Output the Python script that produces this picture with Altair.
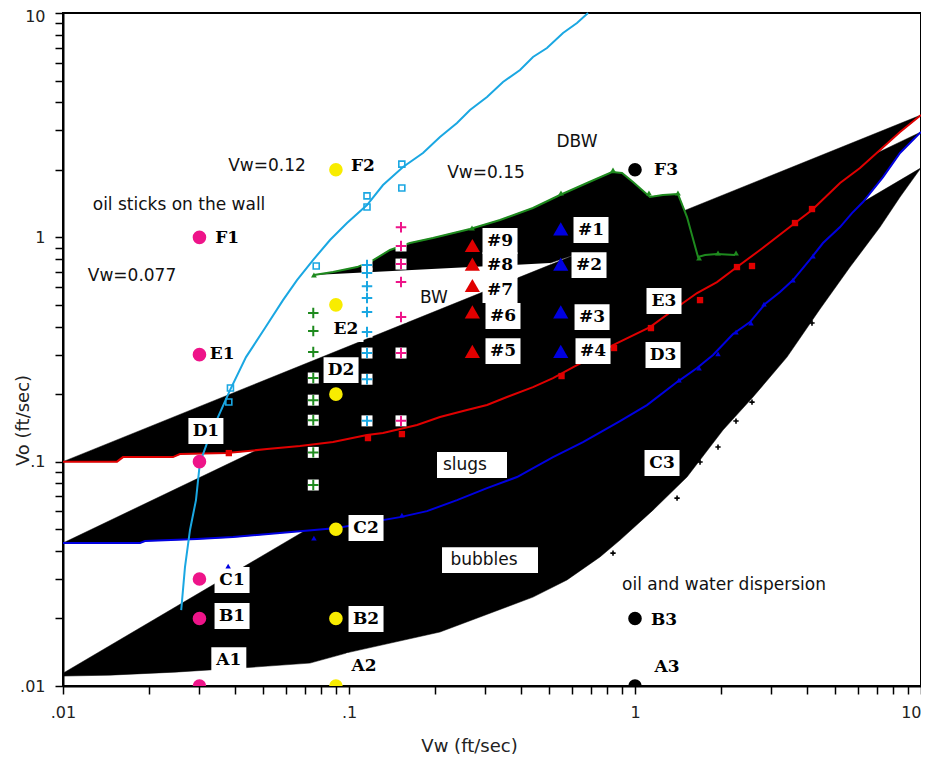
import altair as alt
import pandas as pd

# ---------------- data (Vw, Vo in ft/sec) ----------------
X_TICKS = [0.01, 0.02, 0.03, 0.04, 0.05, 0.06, 0.07, 0.08, 0.09,
           0.1, 0.2, 0.3, 0.4, 0.5, 0.6, 0.7, 0.8, 0.9,
           1, 2, 3, 4, 5, 6, 7, 8, 9, 10]
Y_TICKS = X_TICKS
TICK_TEXT = {0.01: ".01", 0.1: ".1", 1: "1", 10: "10"}

# straight upper edges of the three regime wedges
EDGE1_VW = [0.01, 10]
EDGE1_VO = [0.1, 3.51]
EDGE2_VW = [0.01, 10]
EDGE2_VO = [0.0434, 2.95]
EDGE3_VW = [0.01, 10]
EDGE3_VO = [0.0114, 2.04]

RED_VW = [0.01, 0.01545, 0.01621, 0.02424, 0.02563, 0.03745, 0.05168, 0.0674, 0.0879, 0.1156,
          0.1315, 0.1729, 0.208, 0.2585, 0.3038, 0.3568, 0.4399, 0.5168, 0.6269, 0.7544,
          0.8377, 1.128, 1.472, 1.648, 1.935, 2.273, 2.736, 3.626, 4.158, 5.211,
          6.119, 7.189, 8.446, 10]
RED_VO = [0.1, 0.1, 0.1048, 0.1048, 0.1081, 0.1092, 0.1138, 0.1174, 0.1223, 0.1314,
          0.1341, 0.1456, 0.1581, 0.1698, 0.1788, 0.1941, 0.215, 0.2359, 0.2696, 0.305,
          0.3311, 0.3982, 0.5094, 0.5646, 0.632, 0.737, 0.878, 1.158, 1.323, 1.746,
          2.037, 2.45, 2.948, 3.51]

BLUE_VW = [0.01, 0.01859, 0.01935, 0.02942, 0.03929, 0.05601, 0.0674, 0.0908, 0.1508, 0.1874,
           0.2386, 0.3038, 0.3868, 0.5168, 0.6579, 0.8863, 1.101, 1.403, 1.648, 1.874,
           2.202, 2.524, 2.848, 3.214, 3.568, 4.158, 4.543, 5.211, 5.737, 6.269,
           7.365, 8.446, 10]
BLUE_VO = [0.0434, 0.0434, 0.0443, 0.0452, 0.0461, 0.048, 0.049, 0.0506, 0.0566, 0.0602,
           0.0674, 0.0762, 0.0854, 0.1048, 0.1223, 0.1517, 0.1788, 0.2264, 0.2614, 0.299,
           0.3706, 0.419, 0.504, 0.57, 0.645, 0.817, 0.943, 1.111, 1.283, 1.437,
           1.857, 2.376, 2.95]

LOW_VW = [0.01, 0.01459, 0.02464, 0.04158, 0.07305, 0.1008, 0.208, 0.2871, 0.4399, 0.5785,
          0.7544, 0.8863, 1.156, 1.52, 2.031, 2.586, 3.4, 4.436, 5.646, 7.189, 8.446, 10]
LOW_VO = [0.01107, 0.01118, 0.01153, 0.01202, 0.01265, 0.01416, 0.0174, 0.0203, 0.0249, 0.0297,
          0.0376, 0.0447, 0.0608, 0.0854, 0.1383, 0.1941, 0.2925, 0.479, 0.737, 1.111, 1.512, 2.04]

GREEN_VW = [0.0754, 0.0879, 0.1067, 0.1184, 0.1391, 0.1634, 0.1966, 0.2649, 0.3373, 0.4399,
            0.5468, 0.6796, 0.8311, 0.9006, 0.984, 1.128, 1.253, 1.413, 1.52, 1.661,
            1.757, 1.935, 2.237]
GREEN_VO = [0.679, 0.700, 0.737, 0.776, 0.878, 0.943, 0.993, 1.089, 1.194, 1.351,
            1.544, 1.746, 1.955, 1.935, 1.764, 1.512, 1.544, 1.560, 1.231, 0.817,
            0.834, 0.842, 0.834]
BW_TIP_VW = [0.5045]
BW_TIP_VO = [0.768]

CYAN_VW = [0.0259, 0.0267, 0.0278, 0.02917, 0.0301, 0.03188, 0.03483, 0.03837, 0.04364, 0.05085,
           0.05878, 0.06579, 0.07484, 0.08583, 0.0984, 0.1156, 0.1315, 0.1545, 0.1814, 0.208,
           0.2386, 0.2649, 0.3038, 0.3455, 0.3963, 0.4399, 0.4923, 0.5602, 0.6269, 0.6851]
CYAN_VO = [0.0218, 0.0339, 0.0496, 0.0674, 0.0986, 0.121, 0.1581, 0.2085, 0.2925, 0.394,
           0.525, 0.645, 0.792, 0.9727, 1.158, 1.393, 1.711, 2.058, 2.376, 2.801,
           3.233, 3.694, 4.222, 4.925, 5.57, 6.366, 6.982, 8.143, 9.025, 10]

RED_SQ_VW = [0.038, 0.1165, 0.1531, 0.5535, 0.8446, 1.137, 1.688, 2.273, 2.565, 3.626, 4.158]
RED_SQ_VO = [0.1092, 0.1274, 0.1327, 0.2408, 0.321, 0.394, 0.525, 0.737, 0.745, 1.158, 1.337]
BLUE_TRI_VW = [0.0378, 0.0754, 0.1531, 1.425, 1.675, 1.951, 2.255, 2.544, 2.825, 3.568, 4.191]
BLUE_TRI_VO = [0.0342, 0.0456, 0.0578, 0.231, 0.2614, 0.302, 0.378, 0.415, 0.504, 0.645, 0.825]
GREEN_TRI_VW = [0.0754, 0.2692, 0.5511, 0.8377, 1.119, 1.413, 1.675, 1.951, 2.255]
GREEN_TRI_VO = [0.679, 1.10, 1.576, 1.995, 1.576, 1.576, 0.809, 0.851, 0.851]
BLACK_PLUS_VW = [0.8377, 1.403, 1.688, 1.951, 2.255, 2.565, 4.158]
BLACK_PLUS_VO = [0.0391, 0.0688, 0.0996, 0.1162, 0.1517, 0.1843, 0.415]
CYAN_SQ_VW = [0.0385, 0.038, 0.0768, 0.1156, 0.1156, 0.153, 0.153]
CYAN_SQ_VO = [0.213, 0.1845, 0.745, 1.365, 1.53, 2.12, 1.66]

GREEN_PLUS_VW = 0.075
GREEN_PLUS_VO = [0.46, 0.382, 0.308, 0.236, 0.188, 0.153, 0.110, 0.0787]
CYAN_PLUS_VW = 0.1156
CYAN_PLUS_VO = [0.752, 0.693, 0.606, 0.536, 0.465, 0.378, 0.305, 0.233, 0.152]
PINK_PLUS_VW = 0.152
PINK_PLUS_VO = [1.11, 0.915, 0.760, 0.632, 0.441, 0.305, 0.152]

PINK_VW = 0.03
PINK_VO = [1, 0.3, 0.1, 0.03, 0.02, 0.01]
YELLOW_VW = 0.09
YELLOW_VO = [2, 0.5, 0.2, 0.05, 0.02, 0.01]
BLACK_VW = 1.0
BLACK_VO = [2, 0.02, 0.01]
RED_BIG_VW = 0.27
RED_BIG_VO = [0.92, 0.76, 0.61, 0.465, 0.31]
BLUE_BIG_VW = 0.55
BLUE_BIG_VO = [1.09, 0.76, 0.465, 0.31]

LABELS = ["F1", "E1", "D1", "C1", "B1", "A1", "F2", "E2", "D2", "C2", "B2", "A2",
          "F3", "B3", "A3", "E3", "D3", "C3", "#9", "#8", "#7", "#6", "#5",
          "#1", "#2", "#3", "#4"]
LABEL_VW = [0.0375, 0.036, 0.0316, 0.039, 0.039, 0.038, 0.1119, 0.0976, 0.0938, 0.1147, 0.1147, 0.1128,
            1.284, 1.263, 1.294, 1.263, 1.253, 1.243, 0.3373, 0.3373, 0.3373, 0.3455, 0.3455,
            0.7017, 0.6906, 0.7076, 0.7132]
LABEL_VO = [0.993, 0.302, 0.1369, 0.0297, 0.0205, 0.01304, 2.079, 0.39, 0.256, 0.0506, 0.0199, 0.01227,
            1.995, 0.0197, 0.01214, 0.52, 0.299, 0.0986, 0.9627, 0.752, 0.582, 0.4457, 0.311,
            1.078, 0.752, 0.441, 0.311]

NOTES = ["oil sticks on the wall", "Vw=0.077", "Vw=0.12", "Vw=0.15", "DBW", "BW",
         "slugs", "bubbles", "oil and water dispersion"]
NOTE_VW = [0.02545, 0.01743, 0.05168, 0.3013, 0.6269, 0.1982, 0.2544, 0.2965, 2.048]
NOTE_VO = [1.393, 0.672, 2.079, 1.935, 2.66, 0.536, 0.0966, 0.0364, 0.0282]
NOTE_BOX = ["slugs", "bubbles"]
NOTE_BOX_VW = [0.2692, 0.3112]
NOTE_BOX_VO = [0.0966, 0.0364]

# ---------------- helpers ----------------
SANS = "DejaVu Sans"
SERIF = "DejaVu Serif"
INK = "#222222"

label_expr = " : ".join(
    f"datum.value == {k} ? '{v}'" for k, v in TICK_TEXT.items()) + " : ''"

xscale = alt.Scale(type="log", domain=[0.01, 10], nice=False)
yscale = alt.Scale(type="log", domain=[0.01, 10], nice=False)

common_axis = dict(tickSize=8, tickWidth=1.5, tickColor="black", domainColor="black",
                   domainWidth=2, labelFont=SANS, labelFontSize=16, labelColor=INK,
                   labelOverlap=False, labelFlush=False, grid=False, labelExpr=label_expr,
                   titleFont=SANS, titleFontSize=18, titleFontWeight="normal", titleColor=INK)
xaxis = alt.Axis(values=X_TICKS, labelPadding=10, titleX=406, titleY=60,
                 titleBaseline="middle",
                 labelAlign={"condition": {"test": "datum.value == 10", "value": "right"},
                             "value": "center"},
                 **common_axis)
yaxis = alt.Axis(values=Y_TICKS, labelPadding=10, titleX=-35, titleY=407,
                 titleBaseline="alphabetic",
                 labelOffset={"condition": {"test": "datum.value == 10", "value": 3},
                              "value": 0},
                 **common_axis)

X = alt.X("vw:Q", scale=xscale, axis=xaxis, title="Vw (ft/sec)")
Y = alt.Y("vo:Q", scale=yscale, axis=yaxis, title="Vo (ft/sec)")


def frame(vw, vo, **extra):
    if not isinstance(vw, list):
        vw = [vw] * len(vo)
    d = pd.DataFrame({"vw": vw, "vo": vo})
    d["i"] = range(len(d))
    for k, v in extra.items():
        d[k] = v
    return d


def polygon(top_vw, top_vo, bot_vw, bot_vo):
    vw = list(top_vw) + list(reversed(bot_vw))
    vo = list(top_vo) + list(reversed(bot_vo))
    return frame(vw, vo)


def poly_layer(d):
    return alt.Chart(d).mark_line(fill="black", stroke="black", strokeWidth=0.5,
                                  interpolate="linear").encode(x=X, y=Y, order="i:Q")


def line_layer(d, color, width=2):
    return alt.Chart(d).mark_line(color=color, strokeWidth=width).encode(
        x=X, y=Y, order="i:Q")


def point_layer(d, shape, size, color, filled=True, sw=1.5, clip=False):
    kw = dict(shape=shape, size=size, opacity=1, clip=clip)
    if filled:
        kw.update(filled=True, fill=color, strokeWidth=0)
    else:
        kw.update(filled=False, stroke=color, strokeWidth=sw)
    return alt.Chart(d).mark_point(**kw).encode(x=X, y=Y)


CROSS = "M-1,0L1,0M0,-1L0,1"
BOX_LABEL = "M-1,-0.74L1,-0.74L1,0.74L-1,0.74Z"

layers = []
# black regime regions
layers.append(poly_layer(polygon(EDGE3_VW, EDGE3_VO, LOW_VW, LOW_VO)))
layers.append(poly_layer(polygon(EDGE2_VW, EDGE2_VO, BLUE_VW, BLUE_VO)))
layers.append(poly_layer(polygon(EDGE1_VW, EDGE1_VO, RED_VW, RED_VO)))
layers.append(poly_layer(frame(GREEN_VW[:19] + BW_TIP_VW, GREEN_VO[:19] + BW_TIP_VO)))

# lines
layers.append(line_layer(frame(RED_VW, RED_VO), "#e00000"))
layers.append(line_layer(frame(BLUE_VW, BLUE_VO), "#0000e0"))
layers.append(line_layer(frame(GREEN_VW, GREEN_VO), "#1e8a1e"))
layers.append(line_layer(frame(CYAN_VW, CYAN_VO), "#1aa7e2"))

# label boxes and labels
lab = frame(LABEL_VW, LABEL_VO, label=LABELS)
layers.append(point_layer(lab, BOX_LABEL, 35 ** 2, "white"))
layers.append(alt.Chart(lab).mark_text(font=SERIF, fontSize=17, fontWeight="bold",
                                       color="black", align="center", baseline="middle")
              .encode(x=X, y=Y, text="label:N"))

# small markers
layers.append(point_layer(frame(RED_SQ_VW, RED_SQ_VO), "square", 40, "#e00000"))
layers.append(point_layer(frame(BLUE_TRI_VW, BLUE_TRI_VO), "triangle-up", 30, "#0000e0"))
layers.append(point_layer(frame(GREEN_TRI_VW, GREEN_TRI_VO), "triangle-up", 34, "#1e8a1e"))
layers.append(point_layer(frame(BLACK_PLUS_VW, BLACK_PLUS_VO), CROSS, 28, "black", filled=False, sw=1.6))
layers.append(point_layer(frame(CYAN_SQ_VW, CYAN_SQ_VO), "square", 36, "#1aa7e2", filled=False, sw=1.6))

for pvw, pvo, col in [(GREEN_PLUS_VW, GREEN_PLUS_VO, "#1e8a1e"),
                      (CYAN_PLUS_VW, CYAN_PLUS_VO, "#1aa7e2"),
                      (PINK_PLUS_VW, PINK_PLUS_VO, "#ee1489")]:
    d = frame(pvw, pvo)
    layers.append(point_layer(d, "square", 121, "white"))
    layers.append(point_layer(d, CROSS, 110, col, filled=False, sw=2))

# big markers
layers.append(point_layer(frame(PINK_VW, PINK_VO), "circle", 185, "#ee1489", clip=True))
layers.append(point_layer(frame(YELLOW_VW, YELLOW_VO), "circle", 185, "#f8ec00", clip=True))
layers.append(point_layer(frame(BLACK_VW, BLACK_VO), "circle", 185, "black", clip=True))
layers.append(point_layer(frame(RED_BIG_VW, RED_BIG_VO), "triangle-up", 230, "#e00000"))
layers.append(point_layer(frame(BLUE_BIG_VW, BLUE_BIG_VO), "triangle-up", 230, "#0000e0"))

# annotations
nb = frame(NOTE_BOX_VW, NOTE_BOX_VO, note=NOTE_BOX)
layers.append(point_layer(nb[nb.note == "slugs"], "M-1,-0.37L1,-0.37L1,0.37L-1,0.37Z", 70 ** 2, "white"))
layers.append(point_layer(nb[nb.note == "bubbles"], "M-1,-0.27L1,-0.27L1,0.27L-1,0.27Z", 96 ** 2, "white"))
layers.append(alt.Chart(frame(NOTE_VW, NOTE_VO, note=NOTES)).mark_text(
    font=SANS, fontSize=17, color="#111111", align="center", baseline="middle")
    .encode(x=X, y=Y, text="note:N"))

chart = alt.layer(*layers).properties(
    width=858, height=673,
    autosize=alt.AutoSizeParams(type="none"),
    padding={"left": 55, "top": 5, "right": 0, "bottom": 70},
).configure_view(stroke="black", strokeWidth=2)

chart.save("out.html", embed_options={"renderer": "svg", "actions": False})
